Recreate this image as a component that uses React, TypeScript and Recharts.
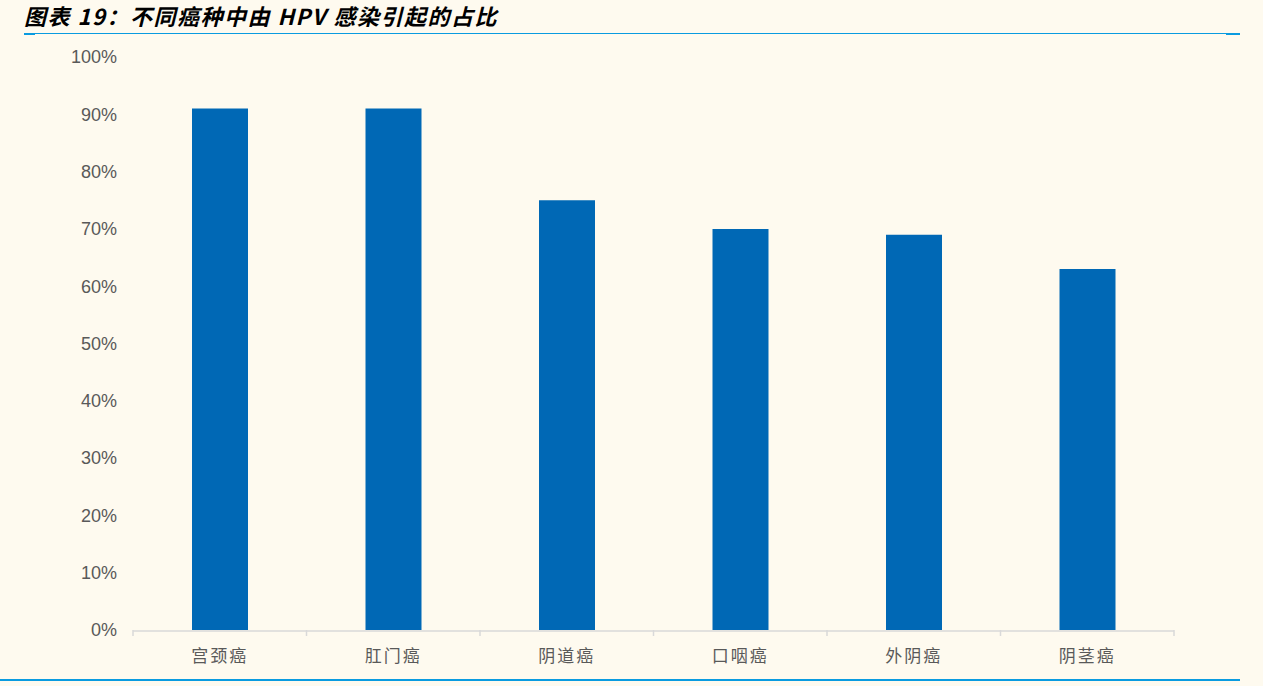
import React from 'react';
import { BarChart, Bar, XAxis, YAxis } from 'recharts';

const categories = ['宫颈癌', '肛门癌', '阴道癌', '口咽癌', '外阴癌', '阴茎癌'];
const shares = [91, 91, 75, 70, 69, 63];
const yTicks = [0, 10, 20, 30, 40, 50, 60, 70, 80, 90, 100];
const boundaryTicks = [0, 1, 2, 3, 4, 5, 6];

const data = categories.map((name, i) => ({ name, value: shares[i], pos: i + 0.5 }));

const BLUE = '#0068B5';
const LINE_BLUE = '#0A9BE0';
const GRAY = '#595959';

export default function App() {
  return (
    <div
      style={{
        position: 'fixed',
        left: 0,
        top: 0,
        width: 1263,
        height: 686,
        background: '#FEFAEF',
        overflow: 'hidden',
      }}
    >
      <div
        style={{
          position: 'absolute',
          left: 24,
          top: 1,
          fontFamily: '"Noto Sans CJK SC", sans-serif',
          fontWeight: 700,
          fontStyle: 'italic',
          fontSize: 22,
          lineHeight: '28px',
          letterSpacing: 1.5,
          color: '#000',
          whiteSpace: 'nowrap',
        }}
      >
        图表 19：不同癌种中由 HPV 感染引起的占比
      </div>
      {/* top rule */}
      <div style={{ position: 'absolute', left: 24, top: 33, width: 1216, height: 1, background: LINE_BLUE }} />
      <div style={{ position: 'absolute', left: 24, top: 33, width: 11, height: 2, background: LINE_BLUE }} />
      <div style={{ position: 'absolute', left: 1226, top: 33, width: 14, height: 2, background: LINE_BLUE }} />
      {/* bottom rule */}
      <div style={{ position: 'absolute', left: 0, top: 679, width: 1240, height: 2, background: LINE_BLUE }} />

      <BarChart
        width={1263}
        height={686}
        data={data}
        margin={{ top: 57, right: 89, bottom: 0, left: 0 }}
      >
        {/* boundary tick marks between categories, sits directly under the plot */}
        <XAxis
          xAxisId="bounds"
          dataKey="pos"
          type="number"
          domain={[0, 6]}
          ticks={boundaryTicks}
          interval={0}
          orientation="bottom"
          height={1}
          tick={<g />}
          axisLine={false}
          tickLine={{ stroke: '#D9D9D9', strokeWidth: 1.5 }}
          tickSize={6}
        />
        <XAxis
          xAxisId="cat"
          dataKey="name"
          height={55}
          axisLine={{ stroke: '#D9D9D9', strokeWidth: 1.5 }}
          tickLine={false}
          tickMargin={13}
          tick={{
            fill: GRAY,
            fontSize: 17,
            fontFamily: '"Noto Sans CJK SC", sans-serif',
            letterSpacing: 2,
          }}
        />
        <YAxis
          width={133}
          domain={[0, 100]}
          ticks={yTicks}
          interval={0}
          axisLine={false}
          tickLine={false}
          tickMargin={10}
          tickFormatter={(v: number) => `${v}%`}
          tick={{ fill: GRAY, fontSize: 18, fontFamily: '"Liberation Sans", Arial, sans-serif' }}
        />
        <Bar xAxisId="cat" dataKey="value" fill={BLUE} barSize={56} isAnimationActive={false} />
      </BarChart>
    </div>
  );
}
